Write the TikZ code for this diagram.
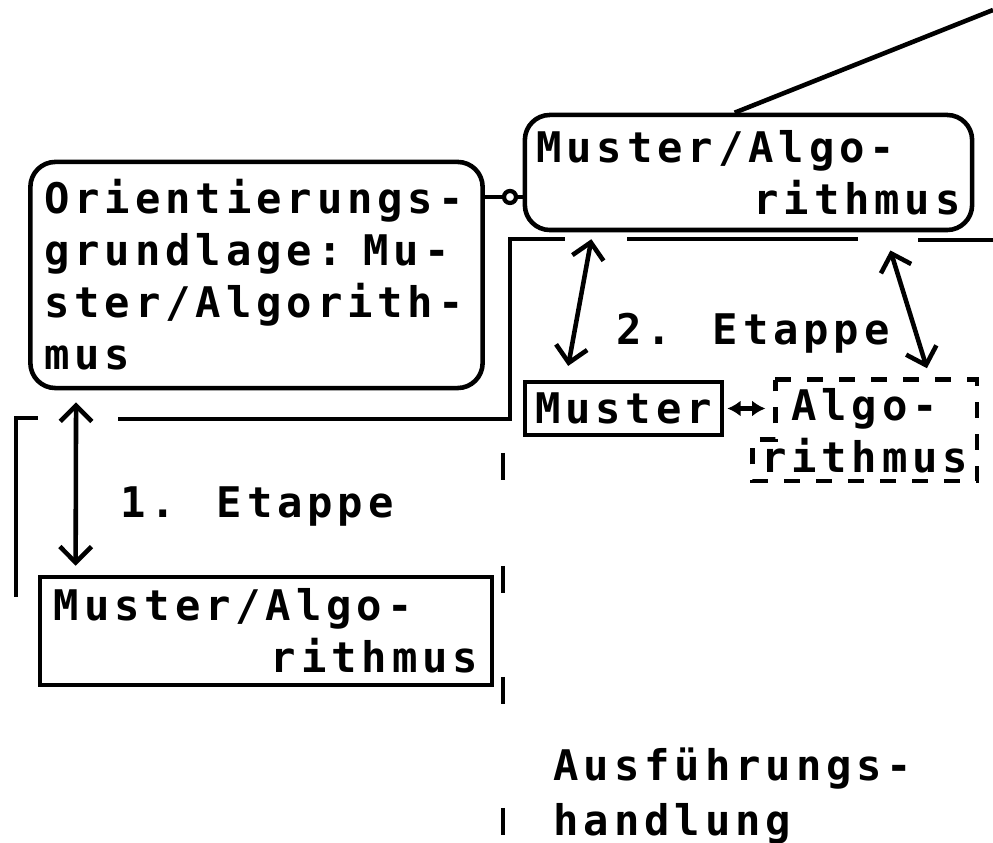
\documentclass[tikz,border=0pt]{standalone}
\usepackage{fontspec}
\newfontfamily\typefont{DejaVu Sans Mono}[LetterSpace=11.6]
\usetikzlibrary{arrows.meta}
\usetikzlibrary{positioning}

\begin{document}
\begin{tikzpicture}[x=0.01cm, y=-0.01cm,
  every node/.style={font=\typefont\bfseries\fontsize{12}{14.8}\selectfont, inner sep=0pt},
  frame/.style={line width=1.3pt},
  rbox/.style={draw, line width=1.3pt, rounded corners=0.25cm, text width=4.24cm, align=left},
  plainbox/.style={draw, line width=1.3pt},
  dbl/.style={{Straight Barb[length=4.5pt,width=9pt]}-{Straight Barb[length=4.5pt,width=9pt]}, line width=1.3pt},
  sdbl/.style={{Latex[length=3.8pt,width=4.6pt]}-{Latex[length=3.8pt,width=4.6pt]}, line width=1.2pt},
  knot/.style={circle, draw, line width=1.2pt, minimum size=0.12cm}]

\useasboundingbox (0,0) rectangle (993,843);

% boxes
\node (orient) [rbox, minimum width=4.52cm, minimum height=2.26cm] at (256.5,275) {Orientierungs-\\grundlage: Mu-\\ster/Algorith-\\mus};
\node (mustTop) [rbox, minimum width=4.47cm, minimum height=1.15cm] at (748.5,172.5) {Muster/Algo-\\\hspace*{\fill}rithmus};
\node (mustLow) [plainbox, text width=4.24cm, align=left, minimum width=4.52cm, minimum height=1.08cm] at (266,631) {Muster/Algo-\\\hspace*{\fill}rithmus};
\node (muster) [plainbox, minimum width=1.97cm, minimum height=0.53cm] at (623.5,408.5) {Muster};
\node (algo) [right=0.28cm of muster.north east, anchor=north west, minimum width=2.23cm, minimum height=1.0cm, text width=2.12cm, align=center] {Algo-\\rithmus};
\draw[line width=1.3pt, dash pattern=on 0.16cm off 0.16cm] ([xshift=0.23cm]algo.north west) -- (algo.north east) -- (algo.south east) -- (algo.south west) -- ([yshift=-0.6cm]algo.north west) -- ([xshift=0.23cm, yshift=-0.6cm]algo.north west) -- cycle;
\coordinate (algoStep) at ([xshift=0.23cm]algo.north west);

% link between the two upper boxes
\node (knot) [knot] at (510,197) {};
\draw[frame] (orient.east |- knot) -- (knot) -- (mustTop.west |- knot);

% phase frames
\coordinate (far) at (993,10);
\draw[frame] ([xshift=2.12cm]mustTop.north west) -- (far);
\draw[frame] (16,597) -- (16,418) -- (38,418);
\draw[frame] (118,419) -- (510,419) -- (510,239) -- (565,239);
\draw[frame] (627,239) -- (858,239);
\draw[frame] (918,240) -- (993,240);
\foreach \y in {453,566,677,808}
  \draw[frame] (503,\y) -- ++(0,27);

% arrows
\draw[dbl, shorten <=0.12cm, shorten >=0.09cm] ([xshift=0.48cm]orient.south west) -- ([xshift=0.38cm]mustLow.north west);
\draw[dbl, shorten <=0.07cm, shorten >=0.14cm] ([xshift=0.70cm]mustTop.south west) -- ([xshift=0.43cm]muster.north west);
\draw[dbl, shorten <=0.19cm, shorten >=0.12cm] ([xshift=3.62cm]mustTop.south west) -- ([xshift=1.78cm]algo.north west);
\draw[sdbl, shorten <=0.03cm, shorten >=0.1cm] (muster.east) -- (muster.east -| algoStep);

% labels
\node (etappe1) [anchor=base west] at (120,518) {1. Etappe};
\node (etappe2) [anchor=base west] at (616,345) {2. Etappe};
\node (ausf) [anchor=north west, align=left, font=\typefont\bfseries\fontsize{12}{15.6}\selectfont] at (553,747) {Ausführungs-\\handlung};

\end{tikzpicture}
\end{document}
